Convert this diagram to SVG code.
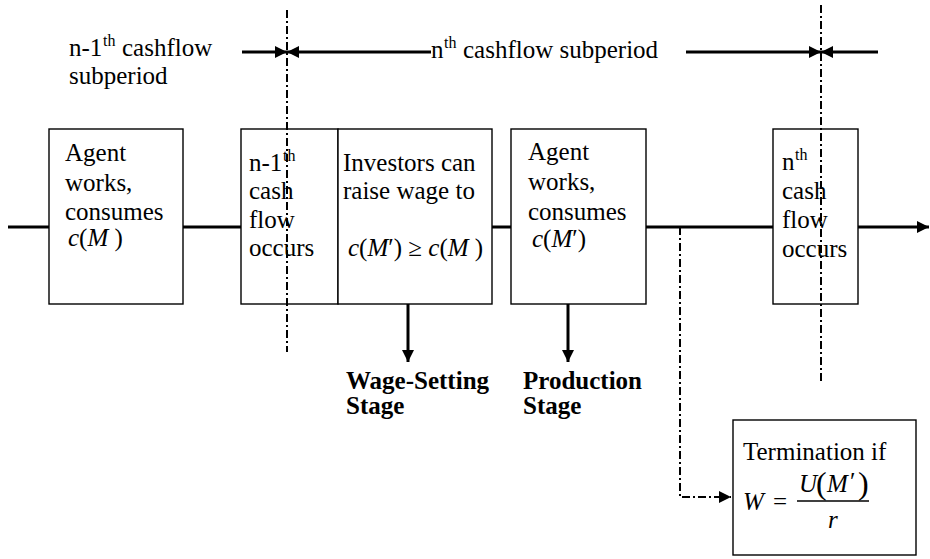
<svg xmlns="http://www.w3.org/2000/svg" width="930" height="559" viewBox="0 0 930 559">
<style>
text{font-family:"Liberation Serif","Times New Roman",serif;font-size:25px;fill:#000}
.i{font-style:italic}
.b{font-weight:bold}
.sup{font-size:16px}
.box{fill:#fff;stroke:#000;stroke-width:1.4}
.thick{stroke:#000;stroke-width:3;fill:none}
.dd{stroke:#000;stroke-width:2;fill:none;stroke-dasharray:8 3 2 3}
</style>
<defs>
<marker id="ah" viewBox="0 0 12 12" refX="12" refY="6" markerWidth="12" markerHeight="12" markerUnits="userSpaceOnUse" orient="auto"><path d="M0,0 L12,6 L0,12 z" fill="#000"/></marker>
</defs>

<g id="connectors">
<path class="thick" d="M8,227 H49 M183,227 H241 M492,227 H511 M646,227 H773"/>
<path class="thick" d="M858,227 H929" marker-end="url(#ah)"/>
<path class="thick" d="M242,52 H287" marker-end="url(#ah)"/>
<path class="thick" d="M431,52 H287" marker-end="url(#ah)"/>
<path class="thick" d="M686,52 H821" marker-end="url(#ah)"/>
<path class="thick" d="M878,52 H821" marker-end="url(#ah)"/>
<path class="thick" d="M408,304 V362" marker-end="url(#ah)"/>
<path class="thick" d="M568,304 V362" marker-end="url(#ah)"/>
<path class="dd" d="M680,227 V497 H731" marker-end="url(#ah)"/>
</g>

<g id="box1"><rect class="box" x="49" y="129" width="134" height="175"/>
<text x="65" y="161">Agent</text><text x="65" y="191">works,</text><text x="65" y="220">consumes</text>
<text x="68" y="246"><tspan class="i">c</tspan>(<tspan class="i">M</tspan> )</text></g>

<g id="box2"><rect class="box" x="241" y="129" width="97" height="175"/>
<text><tspan x="249" y="171">n-1</tspan><tspan class="sup" x="283" y="161">th</tspan></text>
<text x="249" y="199">cash</text><text x="249" y="228">flow</text><text x="249" y="256">occurs</text></g>

<g id="box3"><rect class="box" x="338" y="129" width="154" height="175"/>
<text x="343" y="171">Investors can</text><text x="343" y="199">raise wage to</text>
<text x="348" y="256"><tspan class="i">c</tspan>(<tspan class="i">M</tspan>′) ≥ <tspan class="i">c</tspan>(<tspan class="i">M</tspan> )</text></g>

<g id="box4"><rect class="box" x="511" y="129" width="135" height="175"/>
<text x="528" y="160">Agent</text><text x="528" y="190">works,</text><text x="528" y="220">consumes</text>
<text x="532" y="247"><tspan class="i">c</tspan>(<tspan class="i">M</tspan>′)</text></g>

<g id="box5"><rect class="box" x="773" y="129" width="85" height="175"/>
<text><tspan x="782" y="170">n</tspan><tspan class="sup" x="795" y="160">th</tspan></text>
<text x="782" y="199">cash</text><text x="782" y="228">flow</text><text x="782" y="257">occurs</text></g>

<g id="dividers">
<path class="dd" d="M287,10 V352"/>
<path class="dd" d="M821,5 V382"/>
</g>

<g id="label-prev"><text><tspan x="69" y="56">n-1</tspan><tspan class="sup" x="103" y="46">th</tspan><tspan x="122" y="56">cashflow</tspan></text>
<text x="69" y="84">subperiod</text></g>

<g id="label-curr"><text><tspan x="431" y="58">n</tspan><tspan class="sup" x="444" y="48">th</tspan><tspan x="463" y="58">cashflow subperiod</tspan></text></g>

<g id="stage-wage"><text class="b" x="346" y="389">Wage-Setting</text><text class="b" x="346" y="414">Stage</text></g>
<g id="stage-prod"><text class="b" x="523" y="389">Production</text><text class="b" x="523" y="414">Stage</text></g>

<g id="termination"><rect class="box" x="733" y="420" width="183" height="135"/>
<text x="743" y="460">Termination if</text>
<text class="i" x="743" y="510">W</text>
<text x="773" y="510">=</text>
<line x1="797" y1="501" x2="869" y2="501" stroke="#000" stroke-width="1.3"/>
<text class="i" x="799" y="492">U</text>
<text x="816" y="494" style="font-size:32px">(</text>
<text class="i" x="827" y="492">M</text>
<text x="850" y="490">′</text>
<text x="858" y="494" style="font-size:32px">)</text>
<text class="i" x="828" y="528">r</text></g>
</svg>
